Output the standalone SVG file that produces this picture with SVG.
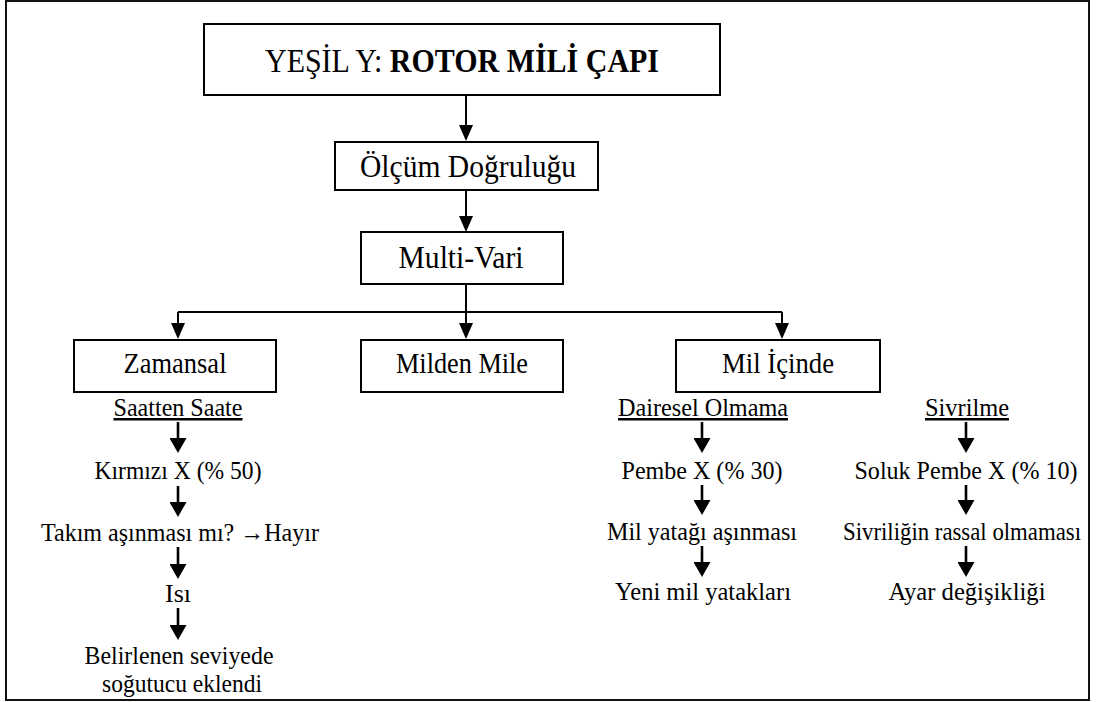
<svg xmlns="http://www.w3.org/2000/svg" width="1097" height="702" viewBox="0 0 1097 702">
  <style>
    .box { fill: #fff; stroke: #000; stroke-width: 2; }
    .t { font-family: "Liberation Serif", "Times New Roman", serif; fill: #000; text-anchor: middle; }
    .top { font-size: 33px; }
    .big { font-size: 31px; }
    .mid { font-size: 28.5px; }
    .small { font-size: 25px; }
    .u { text-decoration: underline; }
    .link { fill: none; stroke: #000; stroke-width: 2; }
    .step { fill: none; stroke: #000; stroke-width: 2.6; }
  </style>
  <defs>
    <marker id="head" markerUnits="userSpaceOnUse" markerWidth="16" markerHeight="14" viewBox="0 0 16 14" refX="6" refY="7" orient="auto">
      <path d="M0,0 L16,7 L0,14 z" fill="#000"/>
    </marker>
    <marker id="stepHead" markerUnits="userSpaceOnUse" markerWidth="15" markerHeight="17" viewBox="0 0 15 17" refX="7" refY="8.5" orient="auto">
      <path d="M0,0 L15,8.5 L0,17 z" fill="#000"/>
    </marker>
  </defs>

  <!-- page frame -->
  <rect x="6" y="1" width="1083" height="699" fill="#fff" stroke="#111" stroke-width="2"/>

  <!-- connectors -->
  <g id="connectors">
    <path class="link" d="M466,95 V131" marker-end="url(#head)"/>
    <path class="link" d="M466,190 V222" marker-end="url(#head)"/>
    <path class="link" d="M466,284 V312 M178,312 H782"/>
    <path class="link" d="M178,312 V329" marker-end="url(#head)"/>
    <path class="link" d="M466,312 V329" marker-end="url(#head)"/>
    <path class="link" d="M782,312 V329" marker-end="url(#head)"/>

    <path class="step" d="M178,422 V445" marker-end="url(#stepHead)"/>
    <path class="step" d="M178,486 V509" marker-end="url(#stepHead)"/>
    <path class="step" d="M178,547 V571" marker-end="url(#stepHead)"/>
    <path class="step" d="M178,608 V632" marker-end="url(#stepHead)"/>

    <path class="step" d="M702,422 V445" marker-end="url(#stepHead)"/>
    <path class="step" d="M702,485 V507" marker-end="url(#stepHead)"/>
    <path class="step" d="M702,546 V569" marker-end="url(#stepHead)"/>

    <path class="step" d="M966,422 V445" marker-end="url(#stepHead)"/>
    <path class="step" d="M966,485 V507" marker-end="url(#stepHead)"/>
    <path class="step" d="M966,546 V569" marker-end="url(#stepHead)"/>
  </g>

  <g id="root">
    <rect class="box" x="204" y="24" width="516" height="71"/>
    <text class="t top" x="462" y="72" textLength="394" lengthAdjust="spacingAndGlyphs">YEŞİL Y: <tspan font-weight="bold">ROTOR MİLİ ÇAPI</tspan></text>
  </g>

  <g id="olcum">
    <rect class="box" x="335" y="142" width="263" height="48"/>
    <text class="t big" x="468" y="177" textLength="216" lengthAdjust="spacingAndGlyphs">Ölçüm Doğruluğu</text>
  </g>

  <g id="multivari">
    <rect class="box" x="361" y="232" width="202" height="52"/>
    <text class="t big" x="461" y="268" textLength="125" lengthAdjust="spacingAndGlyphs">Multi-Vari</text>
  </g>

  <g id="zamansal">
    <rect class="box" x="74" y="340" width="202" height="52"/>
    <text class="t mid" x="175" y="373" textLength="103" lengthAdjust="spacingAndGlyphs">Zamansal</text>
  </g>

  <g id="milden-mile">
    <rect class="box" x="361" y="340" width="202" height="52"/>
    <text class="t mid" x="462" y="373" textLength="132" lengthAdjust="spacingAndGlyphs">Milden Mile</text>
  </g>

  <g id="mil-icinde">
    <rect class="box" x="676" y="340" width="204" height="52"/>
    <text class="t mid" x="778" y="373" textLength="112" lengthAdjust="spacingAndGlyphs">Mil İçinde</text>
  </g>

  <g id="saatten-saate">
    <text class="t small u" x="178" y="416" textLength="129" lengthAdjust="spacingAndGlyphs">Saatten Saate</text>
    <text class="t small" x="178" y="479" textLength="167" lengthAdjust="spacingAndGlyphs">Kırmızı X (% 50)</text>
    <text class="t small" x="180" y="541" textLength="278" lengthAdjust="spacingAndGlyphs">Takım aşınması mı? →Hayır</text>
    <text class="t small" x="178" y="602" textLength="26" lengthAdjust="spacingAndGlyphs">Isı</text>
    <text class="t small" x="179" y="664" textLength="189" lengthAdjust="spacingAndGlyphs">Belirlenen seviyede</text>
    <text class="t small" x="182" y="692" textLength="160" lengthAdjust="spacingAndGlyphs">soğutucu eklendi</text>
  </g>

  <g id="dairesel-olmama">
    <text class="t small u" x="703" y="416" textLength="170" lengthAdjust="spacingAndGlyphs">Dairesel Olmama</text>
    <text class="t small" x="702" y="479" textLength="161" lengthAdjust="spacingAndGlyphs">Pembe X (% 30)</text>
    <text class="t small" x="702" y="540" textLength="190" lengthAdjust="spacingAndGlyphs">Mil yatağı aşınması</text>
    <text class="t small" x="703" y="600" textLength="176" lengthAdjust="spacingAndGlyphs">Yeni mil yatakları</text>
  </g>

  <g id="sivrilme">
    <text class="t small u" x="967" y="416" textLength="84" lengthAdjust="spacingAndGlyphs">Sivrilme</text>
    <text class="t small" x="966" y="479" textLength="223" lengthAdjust="spacingAndGlyphs">Soluk Pembe X (% 10)</text>
    <text class="t small" x="962" y="540" textLength="238" lengthAdjust="spacingAndGlyphs">Sivriliğin rassal olmaması</text>
    <text class="t small" x="967" y="600" textLength="157" lengthAdjust="spacingAndGlyphs">Ayar değişikliği</text>
  </g>
</svg>
